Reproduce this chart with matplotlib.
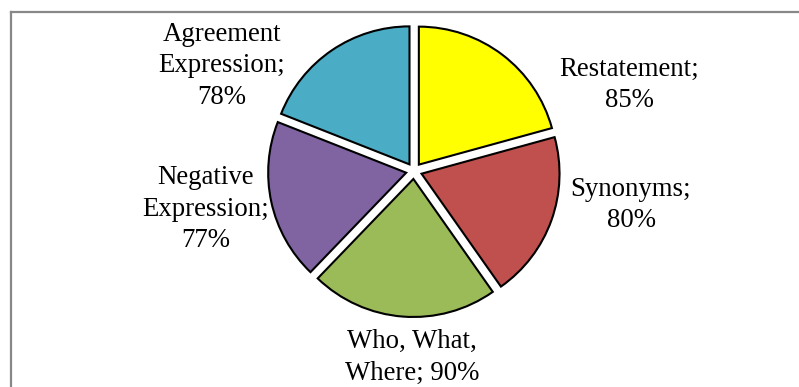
import matplotlib
matplotlib.use("Agg")
import matplotlib.pyplot as plt
from matplotlib.lines import Line2D

# Share of each question type
categories = ["Restatement", "Synonyms", "Who, What,\nWhere", "Negative\nExpression", "Agreement\nExpression"]
values = [85, 80, 90, 77, 78]
separators = ["\n", "\n", "; ", "\n", "\n"]
colors = ["#FFFF00", "#C0504D", "#9BBB59", "#8064A2", "#4BACC6"]

W, H = 799, 387
fig = plt.figure(figsize=(W / 100, H / 100), dpi=100)
ax = fig.add_axes([0, 0, 1, 1])

# Chart frame (extends past the right and bottom edges)
fig.add_artist(Line2D([10.5 / W, 10.5 / W], [0, 1 - 12 / H], color="#888888", lw=1.6))
fig.add_artist(Line2D([10.5 / W, 1.0], [1 - 12 / H, 1 - 12 / H], color="#888888", lw=1.6))

cx, cy, r = 414, H - 171, 138
# explode is in data units (pixels here)
ax.pie(values, colors=colors, startangle=90, counterclock=False,
       center=(cx, cy), radius=r, explode=[8] * len(values),
       wedgeprops=dict(edgecolor="black", linewidth=1.5), frame=True)
ax.set_xlim(0, W)
ax.set_ylim(0, H)
ax.set_aspect("equal")
ax.axis("off")

# label anchor positions (pixel coordinates, y measured from top)
label_pos = [(629, 85), (631, 205), (412, 357), (206, 209), (222, 66)]
for cat, sep, v, (lx, ly) in zip(categories, separators, values, label_pos):
    text = f"{cat};{sep}{v}%" if sep == "\n" else f"{cat}{sep}{v}%"
    ax.text(lx, H - ly, text, ha="center", va="center", fontsize=19.3,
            family="Liberation Serif", linespacing=1.36, color="black")

fig.savefig("out.png", dpi=100)
